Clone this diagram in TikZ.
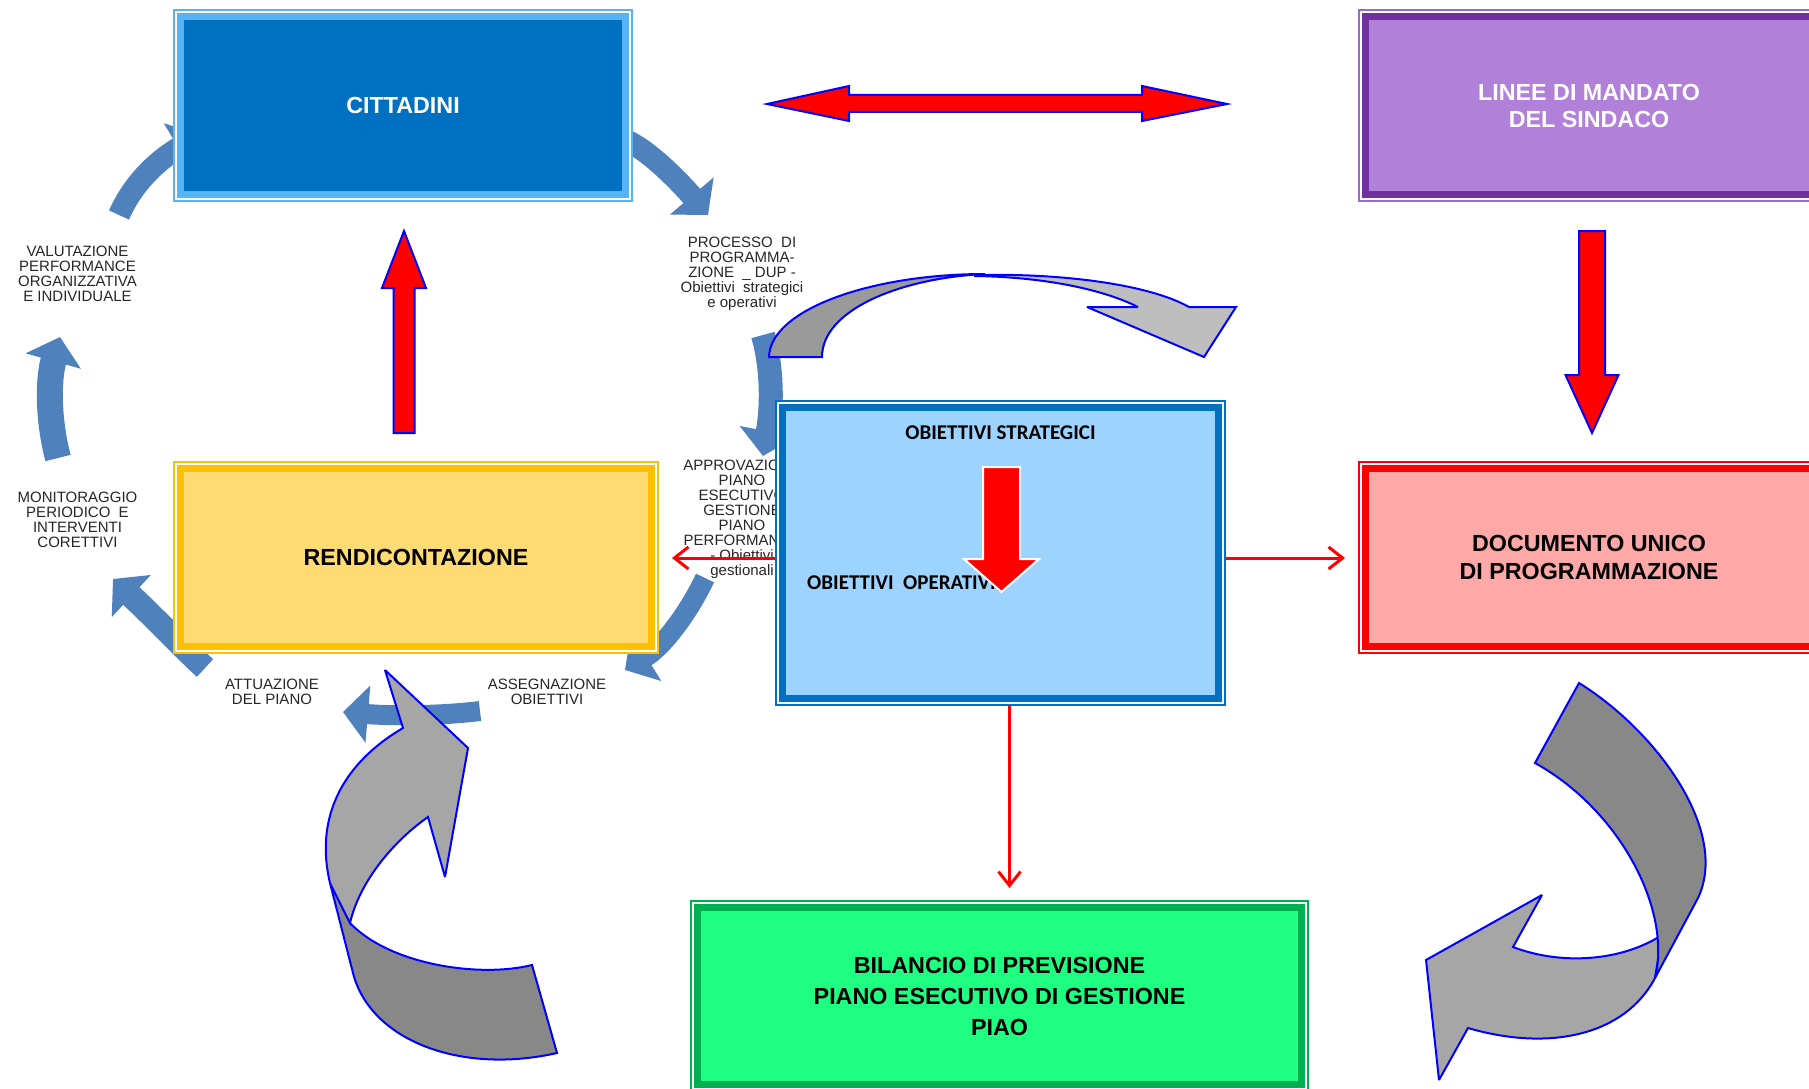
\documentclass[tikz,border=0pt]{standalone}
\usepackage{fontspec}
\setmainfont{Liberation Sans}
\newfontfamily\calfont{Carlito}
\usetikzlibrary{arrows.meta, calc}

\definecolor{citblue}{HTML}{0070C0}
\definecolor{citband}{HTML}{56B4F5}
\definecolor{linfill}{HTML}{B180D8}
\definecolor{linband}{HTML}{7030A0}
\definecolor{linline}{HTML}{9A6AC8}
\definecolor{renfill}{HTML}{FFDC73}
\definecolor{renband}{HTML}{FFC000}
\definecolor{dupfill}{HTML}{FFA8A8}
\definecolor{dupband}{HTML}{FF0000}
\definecolor{objfill}{HTML}{9DD3FF}
\definecolor{objband}{HTML}{0070C0}
\definecolor{bilfill}{HTML}{1EFF82}
\definecolor{bilband}{HTML}{00B050}
\definecolor{cycblue}{HTML}{4F81BD}
\definecolor{labgray}{HTML}{262626}
\definecolor{gdark}{HTML}{888888}
\definecolor{glight}{HTML}{A6A6A6}
\definecolor{gtopdark}{HTML}{9A9A9A}
\definecolor{gtoplight}{HTML}{BEBEBE}

\begin{document}
\begin{tikzpicture}[x=1pt, y=-1pt,
  box/.style n args={3}{draw=#1, fill=#2, line width=7pt, outer sep=7.7pt, inner sep=0pt,
                        preaction={draw=#3, line width=15.4pt},
                        preaction={draw=white, line width=12pt}},
  bigtxt/.style={font=\fontsize{23.3}{#1}\selectfont\bfseries, align=center},
  bigtxt/.default=28,
  lab/.style={font=\fontsize{15}{15}\selectfont, text=labgray, align=center, inner sep=0pt},
  cyc/.style={draw=cycblue, line width=#1, -{Triangle[length=25pt,width=56pt]}},
  link/.style={draw=red, line width=3pt, -{Straight Barb[length=14pt,width=22pt]}, shorten >=13pt},
  redblock/.style={fill=red, draw=blue, line width=2pt, line join=miter},
  ribbon/.style={fill=#1, draw=blue, line width=2pt, line join=miter, miter limit=3},
]
\useasboundingbox (0,0) rectangle (1809,1089);
\fill[white] (0,0) rectangle (1809,1089);

%% ---- cycle arrows (behind the boxes) ----
\draw[cyc=22] (119,215) .. controls (130,190) and (150,165) .. (200,135);
\draw[cyc=22] (625,140) .. controls (650,150) and (685,188) .. (708,215);
\draw[cyc=24] (763,335) .. controls (773,370) and (772,410) .. (763,456);
\draw[cyc=20] (705,578) .. controls (690,610) and (665,645) .. (625,670);
\draw[cyc=20] (480,711) .. controls (440,716) and (390,716) .. (343,712);
\draw[cyc=24] (205,668) .. controls (180,645) and (155,618) .. (113,579);
\draw[cyc=26] (58,458) .. controls (48,420) and (48,380) .. (60,337);

%% ---- cycle labels ----
\node[lab] (valut) at (77.5,274) {VALUTAZIONE\\PERFORMANCE\\ORGANIZZATIVA\\E INDIVIDUALE};
\node[lab] (monit) at (77.5,520) {MONITORAGGIO\\PERIODICO\ \ E\\INTERVENTI\\CORETTIVI};
\node[lab] (proc) at (742,274) {PROCESSO\ \ DI\\PROGRAMMA-\\ZIONE\ \ \_ DUP -\\Obiettivi\ \ strategici\\e operativi};
\node[lab] (appr) at (742,519) {APPROVAZIONE\\PIANO\\ESECUTIVO\\GESTIONE\\PIANO\\PERFORMANCE\\- Obiettivi\\gestionali};
\node[lab] (attu) at (272,692) {ATTUAZIONE\\DEL PIANO};
\node[lab] (asse) at (547,692) {ASSEGNAZIONE\\OBIETTIVI};

%% ---- grey ribbon over the objectives ----
\draw[ribbon=gtoplight] (975,275) .. controls (1065,273) and (1150,285) .. (1189,307)
  -- (1236,307) -- (1204,357) -- (1087,307) -- (1138,307)
  .. controls (1100,288) and (1040,277) .. (975,276) -- cycle;
\draw[ribbon=gtopdark] (769,357) .. controls (770,310) and (870,274) .. (985,274)
  .. controls (900,278) and (822,310) .. (822,357) -- cycle;

%% ---- boxes ----
\node[box={citband}{citblue}{citband}, minimum width=444.6pt, minimum height=177.6pt,
      bigtxt, text=white] (cit) at (403,105.5) {CITTADINI};
\node[box={linband}{linfill}{linline}, minimum width=446.6pt, minimum height=177.6pt,
      bigtxt=27, text=white] (lin) at (1589,105.5) {LINEE DI MANDATO\\DEL SINDACO};
\node[box={renband}{renfill}{renband}, minimum width=470.6pt, minimum height=177.6pt,
      bigtxt] (ren) at (416,557.5) {RENDICONTAZIONE};
\node[box={dupband}{dupfill}{dupband}, minimum width=446.6pt, minimum height=177.6pt,
      bigtxt] (dup) at (1589,557.5) {DOCUMENTO UNICO\\DI PROGRAMMAZIONE};
\node[box={objband}{objfill}{objband}, minimum width=435.6pt, minimum height=290.6pt]
      (obj) at (1000.5,553) {};
\node[box={bilband}{bilfill}{bilband}, minimum width=603.6pt, minimum height=176.6pt,
      bigtxt=31] (bil) at (999.5,996) {BILANCIO DI PREVISIONE\\PIANO ESECUTIVO DI GESTIONE\\PIAO};

\node[font=\calfont\bfseries\fontsize{21}{24}\selectfont] (strat) at (1000.5,433) {OBIETTIVI STRATEGICI};
\node[font=\calfont\bfseries\fontsize{21}{24}\selectfont, anchor=west, inner sep=0pt]
      (oper) at (807,583) {OBIETTIVI\ \ OPERATIVI};

%% ---- thin red links ----
\draw[link] ([yshift=-5pt]obj.west) -- ([yshift=-5pt]obj.west -| ren.east);
\draw[link] ([yshift=-5pt]obj.east) -- ([yshift=-5pt]obj.east -| dup.west);
\draw[link, shorten >=12pt] ([xshift=9pt]obj.south) -- ([xshift=9pt]obj.south |- bil.north);

%% ---- red block arrows ----
\draw[redblock] (767,104) -- (849,86) -- (849,95) -- (1142,95) -- (1142,86) -- (1227,104)
  -- (1142,121) -- (1142,112) -- (849,112) -- (849,121) -- cycle;
\draw[redblock] (393.5,433) -- (393.5,288) -- (382,288) -- (404,231) -- (426,288)
  -- (414.5,288) -- (414.5,433) -- cycle;
\draw[redblock] (1579,231) -- (1579,375) -- (1565.5,375) -- (1592,433) -- (1618.5,375)
  -- (1605,375) -- (1605,231) -- cycle;
\draw[redblock, draw=white] (983,467) -- (983,559) -- (964,559) -- (1001.5,592) -- (1039,559)
  -- (1020,559) -- (1020,467) -- cycle;

%% ---- grey ribbons at the bottom ----
\draw[ribbon=gdark] (330,883) -- (353,973) .. controls (370,1040) and (460,1075) .. (557,1053)
  -- (532,965) .. controls (480,978) and (390,965) .. (350,923) -- cycle;
\draw[ribbon=glight] (330,883) .. controls (315,820) and (340,765) .. (403,728)
  -- (385,670) -- (468,748) -- (445,877) -- (428,817)
  .. controls (395,840) and (360,880) .. (350,923) -- cycle;

\draw[ribbon=glight] (1662,935) .. controls (1620,962) and (1560,965) .. (1513,947)
  -- (1542,895) -- (1426,960) -- (1439,1080) -- (1468,1028)
  .. controls (1550,1052) and (1625,1035) .. (1655,978) -- cycle;
\draw[ribbon=gdark] (1579,683) .. controls (1655,730) and (1730,830) .. (1698,898)
  -- (1655,978) .. controls (1672,910) and (1620,810) .. (1535,763) -- cycle;

\end{tikzpicture}
\end{document}
